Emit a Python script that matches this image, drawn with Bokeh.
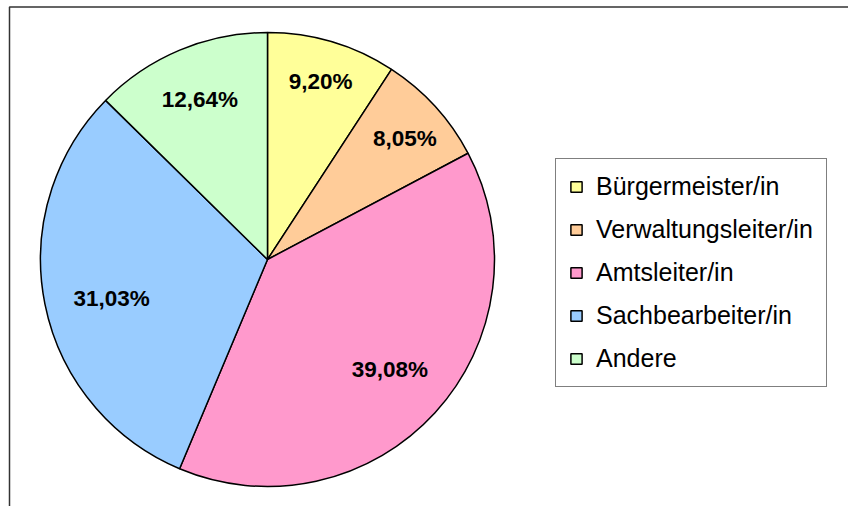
import math
from bokeh.plotting import figure
from bokeh.models import Range1d, Legend, LegendItem, ColumnDataSource, BoxAnnotation
from bokeh.core.properties import value
from bokeh.embed import file_html
from bokeh.resources import INLINE

categories = ["Bürgermeister/in", "Verwaltungsleiter/in", "Amtsleiter/in", "Sachbearbeiter/in", "Andere"]
shares = [9.20, 8.05, 39.08, 31.03, 12.64]
labels = ["9,20%", "8,05%", "39,08%", "31,03%", "12,64%"]
colors = ["#FFFF99", "#FFCC99", "#FF99CC", "#99CCFF", "#CCFFCC"]

# layout (page pixels, y measured from bottom of figure)
W, H = 848, 506
CX, CY, R = 267, 247, 227
label_r = [0.82, 0.82, 0.73, 0.70, 0.77]
label_dy = [0, 4, -2, 8, 1]   # screen px nudges, downward

p = figure(width=W, height=H, output_backend="svg", toolbar_location=None,
           x_range=Range1d(0, W), y_range=Range1d(0, H),
           min_border=0, outline_line_color=None)
p.axis.visible = False
p.grid.visible = False
p.background_fill_color = "white"

total = sum(shares)
starts, ends, lx, ly = [], [], [], []
cum = 0.0
for s, lr in zip(shares, label_r):
    a0 = math.pi / 2 - 2 * math.pi * cum / total
    cum += s
    a1 = math.pi / 2 - 2 * math.pi * cum / total
    starts.append(a0)
    ends.append(a1)
    mid = (a0 + a1) / 2
    lx.append(CX + lr * R * math.cos(mid))
    ly.append(CY + lr * R * math.sin(mid))

items = []
for i in range(len(shares)):
    r = p.wedge(x=CX, y=CY, radius=R, start_angle=starts[i], end_angle=ends[i],
                direction="clock", fill_color=colors[i], line_color="black", line_width=1.5)
    items.append(LegendItem(label=categories[i], renderers=[r]))

src = ColumnDataSource(dict(x=lx, y=ly, t=labels, dy=label_dy))
p.text(x="x", y="y", text="t", source=src, y_offset="dy",
       text_align="center", text_baseline="middle",
       text_font=value("Liberation Sans"), text_font_style="bold", text_font_size="22.5px",
       text_color="black")

# chart-area frame (only top and left edges fall inside the picture)
p.add_layout(BoxAnnotation(left=9, right=W + 50, bottom=-50, top=H - 6.5,
                           fill_alpha=0, line_color="#333333", line_alpha=1.0, line_width=1.5))

legend = Legend(items=items, location=(555, 119), orientation="vertical",
                label_text_font="Liberation Sans", label_text_font_size="25px",
                label_text_color="black", glyph_width=14, glyph_height=13,
                label_standoff=13, spacing=14, padding=13, margin=0,
                border_line_color="black", border_line_width=1,
                background_fill_color="white", background_fill_alpha=1.0)
p.add_layout(legend, "center")

open("out.html", "w").write(file_html(p, INLINE))
